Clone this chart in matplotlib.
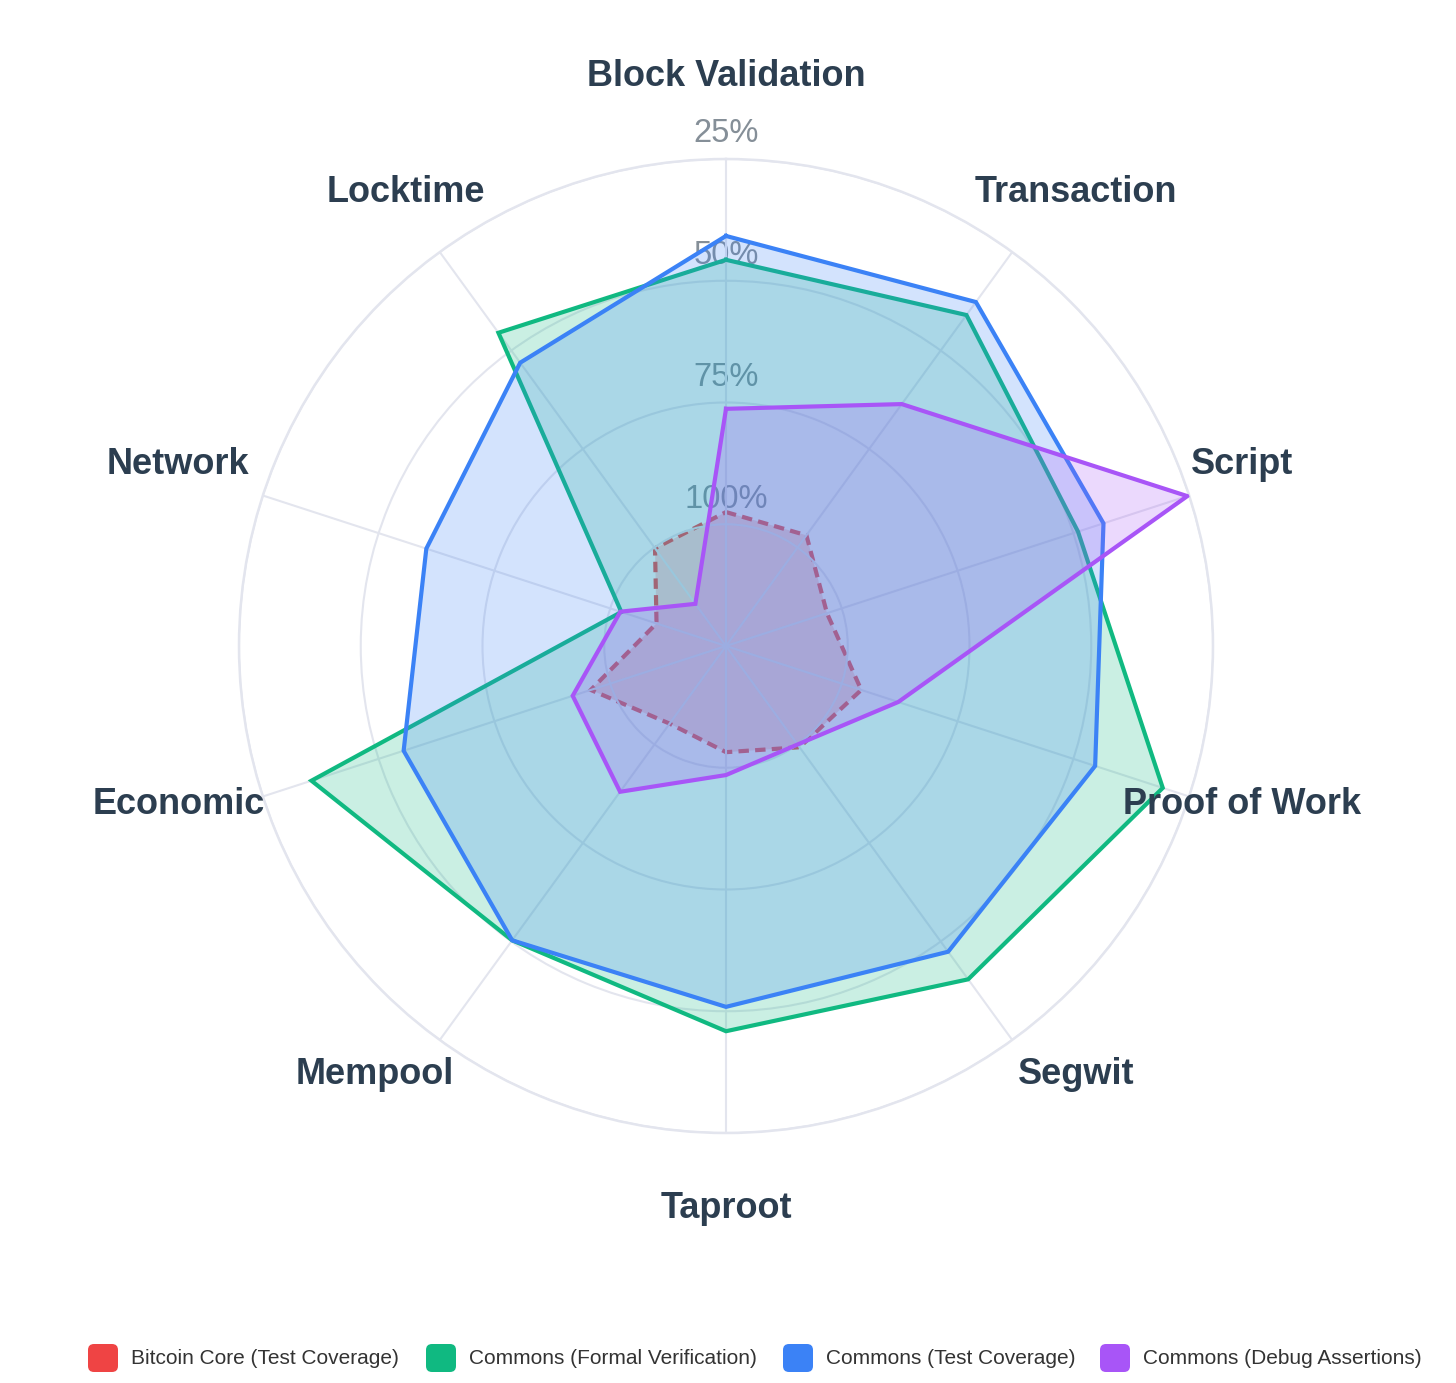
import numpy as np
import matplotlib
matplotlib.use("Agg")
import matplotlib.pyplot as plt
from matplotlib.patches import FancyBboxPatch
from matplotlib import font_manager

# ---------------- data ----------------
categories = ["Block Validation", "Transaction", "Script", "Proof of Work", "Segwit",
              "Taproot", "Mempool", "Economic", "Network", "Locktime"]

series_names = ["Bitcoin Core (Test Coverage)", "Commons (Formal Verification)",
                "Commons (Test Coverage)", "Commons (Debug Assertions)"]

bitcoin_core_test = [97.5, 96.9, 103.2, 95.8, 99.3, 103.2, 105.3, 95.8, 110.0, 100.2]
commons_formal = [45.7, 41.0, 49.0, 30.7, 40.4, 45.9, 50.3, 35.5, 102.4, 45.5]
commons_test = [40.8, 37.7, 43.5, 45.3, 47.4, 50.9, 50.3, 55.4, 60.3, 53.1]
commons_debug = [76.3, 63.6, 25.4, 87.8, 100.0, 98.5, 88.0, 91.9, 102.2, 114.3]

tick_values = [25, 50, 75, 100]
tick_labels = ["25%", "50%", "75%", "100%"]

# ---------------- style ----------------
colors = ["#ef4444", "#10b981", "#3b82f6", "#a855f7"]
W, H = 1456, 1383
CX, CY, R = 726, 646, 487
grid_color = "#e3e5ee"
label_color = "#2c3e50"
tick_color = "#858f98"


def has_font(name):
    try:
        font_manager.findfont(font_manager.FontProperties(family=name),
                              fallback_to_default=False)
        return True
    except Exception:
        return False


legend_font = "Liberation Sans Narrow" if has_font("Liberation Sans Narrow") else "Liberation Sans"
legend_size = 18 if legend_font == "Liberation Sans Narrow" else 15

fig = plt.figure(figsize=(W / 100, H / 100), dpi=100)
fig.patch.set_facecolor("white")

ax = fig.add_axes([(CX - R) / W, (H - CY - R) / H, 2 * R / W, 2 * R / H], projection="polar")
ax.set_theta_zero_location("N")
ax.set_theta_direction(-1)
ax.set_ylim(125, 25)  # reversed radial scale

n = len(categories)
angles = np.linspace(0, 2 * np.pi, n, endpoint=False)
ang_closed = np.concatenate([angles, angles[:1]])

ax.set_xticks(angles)
ax.set_xticklabels([])
ax.set_yticks(tick_values)
ax.set_yticklabels([])
ax.tick_params(length=0)
ax.grid(True, color=grid_color, linewidth=1.5, zorder=0.5)
ax.spines["polar"].set_color(grid_color)
ax.spines["polar"].set_linewidth(1.8)
ax.set_facecolor("white")

# tick labels along the top axis (drawn under the datasets)
for v, t in zip(tick_values, tick_labels):
    ax.annotate(t, xy=(0, v), xytext=(0, 18), textcoords="offset points",
                ha="center", va="center", fontsize=23.5, color=tick_color,
                family="Liberation Sans", zorder=0.8, annotation_clip=False)

all_series = [bitcoin_core_test, commons_formal, commons_test, commons_debug]
for i, (vals, c) in enumerate(zip(all_series, colors)):
    vc = np.concatenate([vals, vals[:1]])
    ax.fill(ang_closed, vc, color=c, alpha=0.22, linewidth=0, zorder=1 + i)
    if i == 0:
        ax.plot(ang_closed, vc, color=c, linewidth=3.0, linestyle=(0, (2.5, 1.5)),
                zorder=1 + i, solid_joinstyle="miter", dash_joinstyle="miter")
    else:
        ax.plot(ang_closed, vc, color=c, linewidth=3.0, zorder=1 + i,
                solid_joinstyle="miter")

# ---------------- overlay for labels & legend (pixel coordinates) ----------------
ov = fig.add_axes([0, 0, 1, 1], zorder=10)
ov.set_xlim(0, W)
ov.set_ylim(H, 0)
ov.axis("off")
ov.patch.set_alpha(0)

# label centers relative to chart center (pixels)
label_offsets = [(0, -570), (350, -453), (516, -182), (516, 158), (350, 429),
                 (0, 563), (-351, 429), (-547, 158), (-548, -182), (-320, -453)]
for name, (dx, dy) in zip(categories, label_offsets):
    ov.text(CX + dx, CY + dy, name, ha="center", va="center", fontsize=26,
            fontweight="bold", color=label_color, family="Liberation Sans")

# legend
box_x = [88, 426, 783, 1100]
leg_y = 1358
for bx, c, name in zip(box_x, colors, series_names):
    ov.add_patch(FancyBboxPatch((bx + 4, leg_y - 10), 22, 20,
                                boxstyle="round,pad=4,rounding_size=6",
                                facecolor=c, edgecolor="none"))
    ov.text(bx + 43, leg_y, name, ha="left", va="center", fontsize=legend_size,
            color="#333333", family=legend_font)

fig.savefig("out.png", dpi=100, facecolor="white")
